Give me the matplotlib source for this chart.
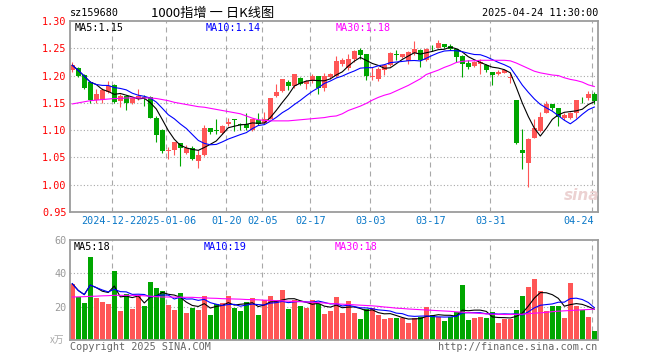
import numpy as np
import pandas as pd
import matplotlib
matplotlib.use("Agg")
from matplotlib import pyplot as plt
from matplotlib.transforms import blended_transform_factory

# daily candles, 2024-12-12 .. 2025-04-24
opens = [1.211, 1.214, 1.201, 1.189, 1.155, 1.155, 1.170, 1.183, 1.153, 1.163,
         1.150, 1.158, 1.160, 1.160, 1.122, 1.101, 1.0615, 1.064, 1.076, 1.059,
         1.068, 1.044, 1.054, 1.104, 1.100, 1.094, 1.112, 1.121, 1.112, 1.112,
         1.100, 1.118, 1.113, 1.121, 1.162, 1.172, 1.188, 1.180, 1.196, 1.184,
         1.190, 1.200, 1.177, 1.197, 1.200, 1.222, 1.214, 1.230, 1.246, 1.239,
         1.198, 1.194, 1.210, 1.220, 1.239, 1.234, 1.227, 1.241, 1.246, 1.228,
         1.2525, 1.251, 1.257, 1.254, 1.248, 1.235, 1.223, 1.217, 1.222, 1.219,
         1.207, 1.202, 1.205, 1.196, 1.155, 1.063, 1.040, 1.086, 1.098, 1.132,
         1.148, 1.140, 1.123, 1.123, 1.1305, 1.1553, 1.158, 1.166]
highs = [1.224, 1.216, 1.202, 1.190, 1.175, 1.177, 1.190, 1.184, 1.167, 1.164,
         1.160, 1.175, 1.165, 1.162, 1.126, 1.102, 1.070, 1.079, 1.077, 1.073,
         1.071, 1.063, 1.109, 1.104, 1.121, 1.109, 1.123, 1.121, 1.113, 1.132,
         1.121, 1.132, 1.134, 1.159, 1.184, 1.194, 1.192, 1.203, 1.198, 1.191,
         1.203, 1.200, 1.204, 1.204, 1.235, 1.233, 1.240, 1.246, 1.251, 1.240,
         1.215, 1.215, 1.221, 1.243, 1.246, 1.240, 1.245, 1.263, 1.249, 1.251,
         1.256, 1.265, 1.257, 1.257, 1.249, 1.237, 1.228, 1.227, 1.231, 1.222,
         1.207, 1.211, 1.212, 1.204, 1.155, 1.102, 1.085, 1.120, 1.134, 1.154,
         1.148, 1.140, 1.132, 1.134, 1.156, 1.161, 1.172, 1.170]
lows = [1.207, 1.197, 1.175, 1.150, 1.149, 1.150, 1.168, 1.149, 1.143, 1.136,
        1.147, 1.156, 1.144, 1.122, 1.079, 1.058, 1.048, 1.054, 1.034, 1.056,
        1.045, 1.031, 1.052, 1.093, 1.093, 1.093, 1.107, 1.098, 1.100, 1.100,
        1.099, 1.110, 1.112, 1.120, 1.160, 1.170, 1.174, 1.178, 1.182, 1.175,
        1.186, 1.167, 1.172, 1.194, 1.197, 1.217, 1.211, 1.225, 1.231, 1.191,
        1.191, 1.190, 1.201, 1.218, 1.228, 1.233, 1.222, 1.237, 1.215, 1.227,
        1.245, 1.251, 1.251, 1.246, 1.225, 1.197, 1.212, 1.215, 1.202, 1.206,
        1.183, 1.201, 1.204, 1.186, 1.075, 1.029, 0.996, 1.085, 1.097, 1.131,
        1.137, 1.108, 1.118, 1.121, 1.123, 1.149, 1.156, 1.148]
closes = [1.219, 1.200, 1.178, 1.155, 1.166, 1.174, 1.181, 1.152, 1.163, 1.150,
          1.158, 1.163, 1.158, 1.123, 1.092, 1.061, 1.0625, 1.078, 1.068, 1.068,
          1.047, 1.054, 1.104, 1.097, 1.099, 1.107, 1.115, 1.118, 1.109, 1.104,
          1.120, 1.112, 1.120, 1.159, 1.170, 1.193, 1.180, 1.202, 1.185, 1.190,
          1.200, 1.177, 1.200, 1.203, 1.226, 1.228, 1.230, 1.245, 1.237, 1.199,
          1.200, 1.212, 1.219, 1.241, 1.237, 1.239, 1.243, 1.249, 1.229, 1.249,
          1.2515, 1.259, 1.2525, 1.249, 1.234, 1.222, 1.215, 1.225, 1.225, 1.211,
          1.201, 1.207, 1.210, 1.1965, 1.077, 1.058, 1.083, 1.104, 1.124, 1.148,
          1.140, 1.124, 1.1275, 1.1305, 1.155, 1.1547, 1.167, 1.153]
volumes = [33.8, 25.6, 22.3, 50.1, 25.4, 23.0, 21.7, 41.7, 17.5, 27.6,
           18.7, 26.8, 20.5, 35.0, 31.0, 29.6, 21.1, 18.1, 28.4, 16.5,
           19.5, 18.1, 26.6, 15.1, 21.5, 22.3, 26.6, 19.3, 17.5, 23.0,
           25.4, 15.1, 24.0, 26.6, 24.2, 30.2, 18.7, 24.2, 20.5, 19.5,
           24.2, 21.7, 15.7, 17.5, 25.6, 16.3, 23.6, 16.3, 12.7, 18.9,
           19.1, 15.1, 12.7, 13.3, 13.3, 13.1, 10.5, 13.1, 14.1, 19.9,
           15.1, 13.7, 11.5, 13.9, 17.1, 33.2, 12.1, 13.3, 13.9, 13.3,
           16.7, 10.3, 12.9, 12.9, 18.1, 26.2, 31.6, 36.8, 29.6, 17.5,
           20.5, 20.5, 13.3, 34.4, 20.5, 18.1, 13.9, 5.4]
ma30_price = [1.148, 1.150, 1.152, 1.154, 1.155, 1.156, 1.157, 1.158, 1.158, 1.159,
              1.159, 1.159, 1.159, 1.159, 1.158, 1.156, 1.154, 1.151, 1.149, 1.147,
              1.145, 1.143, 1.142, 1.140, 1.138, 1.136, 1.134, 1.132, 1.130, 1.126,
              1.122, 1.119, 1.118, 1.117, 1.117, 1.117, 1.117, 1.118, 1.119, 1.120,
              1.121, 1.122, 1.123, 1.125, 1.126, 1.130, 1.136, 1.140, 1.144, 1.149,
              1.155, 1.160, 1.164, 1.167, 1.172, 1.177, 1.182, 1.188, 1.194, 1.202,
              1.206, 1.210, 1.215, 1.219, 1.224, 1.226, 1.227, 1.227, 1.228, 1.228,
              1.228, 1.228, 1.228, 1.227, 1.223, 1.218, 1.213, 1.208, 1.205, 1.203,
              1.201, 1.200, 1.196, 1.193, 1.191, 1.188, 1.183, 1.180]
ma30_vol = [25.8, 25.9, 26.0, 26.2, 26.3, 26.5, 26.6, 26.8, 26.8, 26.8,
            26.8, 26.7, 26.5, 26.3, 26.0, 25.8, 25.8, 25.7, 25.7, 25.6,
            25.6, 25.4, 25.3, 25.1, 25.0, 24.8, 24.7, 24.6, 24.5, 24.3,
            24.2, 24.1, 23.9, 23.8, 23.6, 23.5, 23.3, 23.1, 23.0, 22.8,
            22.6, 22.4, 22.2, 21.9, 21.7, 21.5, 21.3, 21.1, 20.9, 20.7,
            20.5, 20.2, 19.8, 19.5, 19.1, 18.9, 18.6, 18.4, 18.2, 18.0,
            17.8, 17.6, 17.4, 17.2, 16.9, 16.7, 16.4, 16.2, 15.9, 15.7,
            15.5, 15.4, 15.3, 15.3, 15.4, 15.5, 15.8, 16.1, 16.3, 16.6,
            17.0, 17.3, 17.5, 17.7, 17.9, 18.1, 18.3, 18.5]

tick_idx = [7, 16, 26, 32, 40, 50, 60, 70, 87]
tick_labels = ["2024-12-23", "2025-01-06", "01-20", "02-05", "02-17",
               "03-03", "03-17", "03-31", "04-24"]
price_ticks = [0.95, 1.00, 1.05, 1.10, 1.15, 1.20, 1.25, 1.30]
vol_ticks = [20, 40, 60]
price_ma_labels = ["MA5:1.15", "MA10:1.14", "MA30:1.18"]
vol_ma_labels = ["MA5:18", "MA10:19", "MA30:18"]

MONO = "DejaVu Sans Mono"
CJK = ["Noto Sans CJK SC", "DejaVu Sans"]
RED = "#ff5656"
GREEN = "#00a600"
GRID = "#a8a8a8"
EDGE = "#9c9c9c"
MA_COLORS = ["black", "#0000ff", "#ff00ff"]
FS = 7.3
LW = 0.8

W, H = 660, 360


def box(x0, y0, x1, y1):
    return [x0 / W, 1 - y1 / H, (x1 - x0) / W, (y1 - y0) / H]


def frame(a):
    for s in a.spines.values():
        s.set_color(EDGE)
        s.set_linewidth(1.3)
    a.set_xlim(-0.38, 87.53)
    a.set_xticks([])
    a.tick_params(axis="y", length=0, pad=2.5)
    for t in tick_idx:
        a.axvline(t - 0.33, color=GRID, lw=0.8, ls=(0, (4.5, 3.6)), zorder=1)


fig = plt.figure(figsize=(6.6, 3.6), dpi=100)
ax = fig.add_axes(box(70, 21, 597.5, 212))
axv = fig.add_axes(box(70, 240, 597.5, 340))

x = np.arange(len(closes))
o = np.array(opens)
c = np.array(closes)
colors = np.where(c >= o, RED, GREEN)

# price panel
frame(ax)
ax.set_ylim(0.95, 1.30)
for p in price_ticks[1:-1]:
    ax.axhline(p, color=GRID, lw=0.8, ls=(0, (1, 2)), zorder=1)
ax.set_yticks(price_ticks)
ax.set_yticklabels([f"{p:.2f}" for p in price_ticks], color="red",
                   family=MONO, fontsize=FS)
ax.vlines(x, lows, highs, colors=colors, lw=LW, zorder=2)
ax.bar(x, np.maximum(np.abs(c - o), 0.0012), bottom=np.minimum(o, c),
       width=0.8, color=colors, linewidth=0, zorder=2)
s = pd.Series(closes)
price_mas = [s.rolling(5, min_periods=1).mean(), s.rolling(10, min_periods=1).mean(), ma30_price]
for m, col in zip(price_mas, MA_COLORS):
    ax.plot(x, m, color=col, lw=LW, zorder=3)

# volume panel
frame(axv)
axv.set_ylim(0, 60)
for v in vol_ticks[:-1]:
    axv.axhline(v, color=GRID, lw=0.8, ls=(0, (1, 2)), zorder=1)
axv.set_yticks(vol_ticks)
axv.set_yticklabels([str(v) for v in vol_ticks], color="#999999",
                    family=MONO, fontsize=FS)
axv.bar(x, volumes, width=0.82, color=colors, linewidth=0, zorder=2)
sv = pd.Series(volumes)
vol_mas = [sv.rolling(5, min_periods=1).mean(), sv.rolling(10, min_periods=1).mean(), ma30_vol]
for m, col in zip(vol_mas, MA_COLORS):
    axv.plot(x, m, color=col, lw=LW, zorder=3)

# MA legends inside panels
for lab, col, px in zip(price_ma_labels, MA_COLORS, [75, 206, 336]):
    fig.text(px / W, 1 - 28 / H, lab, color=col, family=MONO, fontsize=FS, va="center")
for lab, col, px in zip(vol_ma_labels, MA_COLORS, [74, 204, 335]):
    fig.text(px / W, 1 - 247 / H, lab, color=col, family=MONO, fontsize=FS, va="center")

# date labels (the first two collide in the original as well)
tr = blended_transform_factory(ax.transData, fig.transFigure)
for i, (t, lab) in enumerate(zip(tick_idx, tick_labels)):
    ha = "right" if i == len(tick_idx) - 1 else "center"
    xx = t - 0.1 if ha == "right" else t - 0.33
    ax.text(xx, 1 - 221 / H, lab, transform=tr, ha=ha, va="center",
            color="#0a78c8", family=MONO, fontsize=FS,
            bbox=dict(facecolor="white", edgecolor="none", pad=0))

# header and footer
fig.text(70 / W, 1 - 13 / H, "sz159680", family=MONO, fontsize=FS, va="center")
fig.text(151 / W, 1 - 13 / H, "1000指增 一 日K线图", family=CJK, fontsize=9.5, va="center")
fig.text(598 / W, 1 - 13 / H, "2025-04-24 11:30:00", family=MONO, fontsize=FS,
         va="center", ha="right")
fig.text(64 / W, 1 - 340 / H, "x万", family=CJK, fontsize=7, color="#aaaaaa",
         va="center", ha="right")
fig.text(70 / W, 1 - 347 / H, "Copyright 2025 SINA.COM", family=MONO, fontsize=FS,
         color="#666666", va="center")
fig.text(597 / W, 1 - 347 / H, "http://finance.sina.com.cn", family=MONO, fontsize=FS,
         color="#666666", va="center", ha="right")
fig.text(582 / W, 1 - 196 / H, "sina", fontsize=11, weight="bold", style="italic",
         color="#ecd2d2", ha="center", va="center")

fig.savefig("out.png", dpi=100)
